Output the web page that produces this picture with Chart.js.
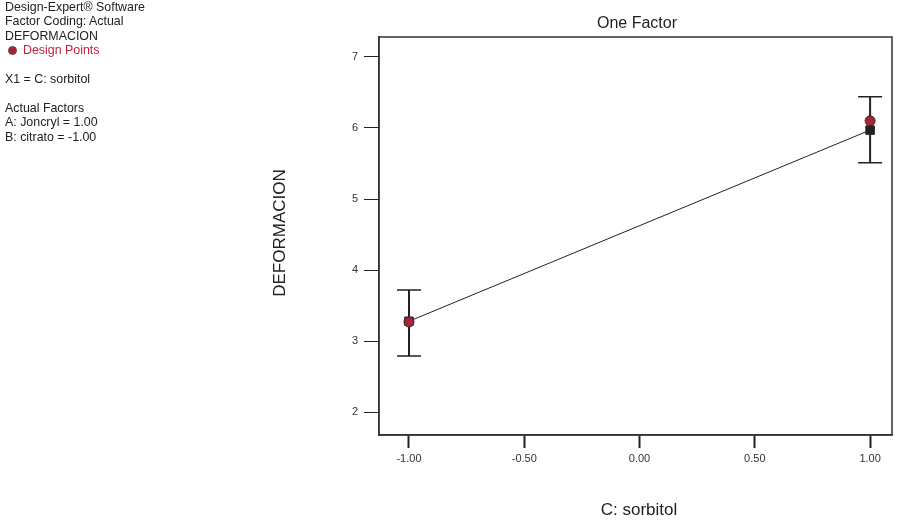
<!DOCTYPE html>
<html>
<head>
<meta charset="utf-8">
<script src="https://cdn.jsdelivr.net/npm/chart.js@4/dist/chart.umd.min.js"></script>
<style>
  body { margin: 0; background: #fff; }
  #wrap { position: relative; width: 904px; height: 520px; }
  #notes { position: absolute; left: 5px; top: 0px; font: 12.4px "Liberation Sans", Arial, sans-serif; color: #222; line-height: 14.4px; }
  #notes .red { color: #c4223c; }
  #notes .dot { display: inline-block; width: 7px; height: 7px; border-radius: 50%; background: #a8223a; border: 1px solid #552; margin: 0 6px 1px 3px; vertical-align: middle; }
</style>
</head>
<body>
<div id="wrap">
  <canvas id="my-chart" width="904" height="520"></canvas>
  <div id="notes">
    Design-Expert® Software<br>
    Factor Coding: Actual<br>
    DEFORMACION<br>
    <span class="red"><span class="dot"></span>Design Points</span><br>
    <br>
    X1 = C: sorbitol<br>
    <br>
    Actual Factors<br>
    A: Joncryl = 1.00<br>
    B: citrato = -1.00
  </div>
</div>
<script>
'use strict';

// data
let factorLevels = [-1, 1];
let predicted = [3.28, 5.97];
let lowerBar = [2.79, 5.51];
let upperBar = [3.72, 6.44];
let designPoints = [3.27, 6.10];
let xTicks = [-1, -0.5, 0, 0.5, 1];
let yTicks = [2, 3, 4, 5, 6, 7];

let ctx = document.getElementById('my-chart');

// error bars + frame + titles
let extras = {
  id: 'extras',
  beforeDatasetsDraw(chart) {
    let c = chart.ctx;
    let xs = chart.scales.x;
    let ys = chart.scales.y;
    c.save();
    c.strokeStyle = '#222';
    for (let i = 0; i < factorLevels.length; i++) {
      let px = xs.getPixelForValue(factorLevels[i]);
      let top = ys.getPixelForValue(upperBar[i]);
      let bot = ys.getPixelForValue(lowerBar[i]);
      c.lineWidth = 2;
      c.beginPath();
      c.moveTo(px, top);
      c.lineTo(px, bot);
      c.stroke();
      c.lineWidth = 1.5;
      c.beginPath();
      c.moveTo(px - 12, top);
      c.lineTo(px + 12, top);
      c.moveTo(px - 12, bot);
      c.lineTo(px + 12, bot);
      c.stroke();
    }
    c.restore();
  },
  afterDraw(chart) {
    let c = chart.ctx;
    let a = chart.chartArea;
    c.save();
    c.strokeStyle = '#333';
    c.lineWidth = 1.5;
    c.strokeRect(a.left, a.top, a.right - a.left, a.bottom - a.top);
    c.fillStyle = '#222';
    c.textAlign = 'center';
    c.textBaseline = 'middle';
    let mid = (a.left + a.right) / 2;
    c.font = '16px "Liberation Sans", Arial, sans-serif';
    c.fillText('One Factor', 637, 24);
    c.font = '17px "Liberation Sans", Arial, sans-serif';
    c.fillText('C: sorbitol', 639, 510);
    c.translate(280, 233);
    c.rotate(-Math.PI / 2);
    c.fillText('DEFORMACION', 0, 0);
    c.restore();
  }
};

let chartObject = {
  type: 'scatter',
  data: {
    datasets: [
      {
        label: 'Design Points',
        data: factorLevels.map((x, i) => ({ x: x, y: designPoints[i] })),
        pointStyle: 'circle',
        pointRadius: 5,
        backgroundColor: '#a8223a',
        borderColor: '#3a2a2a',
        borderWidth: 1,
        order: 0
      },
      {
        label: 'Prediction',
        data: factorLevels.map((x, i) => ({ x: x, y: predicted[i] })),
        showLine: true,
        borderColor: '#222',
        borderWidth: 1,
        pointStyle: 'rect',
        pointRadius: 6,
        pointBackgroundColor: '#222',
        pointBorderColor: '#222',
        order: 1
      }
    ]
  },
  options: {
    responsive: false,
    animation: false,
    layout: { padding: { top: 37, right: 12, left: 0, bottom: 0 } },
    plugins: {
      legend: { display: false },
      tooltip: { enabled: false }
    },
    scales: {
      x: {
        type: 'linear',
        min: -1.13,
        max: 1.095,
        afterBuildTicks(scale) { scale.ticks = xTicks.map(v => ({ value: v })); },
        afterFit(scale) { scale.height = 85; },
        grid: { drawOnChartArea: false, drawTicks: true, tickLength: 13, tickWidth: 2, tickColor: '#222' },
        border: { display: true, color: '#333', width: 1.5 },
        ticks: {
          padding: 4,
          color: '#333',
          font: { size: 11, family: '"Liberation Sans", Arial, sans-serif' },
          callback: v => v.toFixed(2)
        }
      },
      y: {
        type: 'linear',
        min: 1.68,
        max: 7.28,
        afterBuildTicks(scale) { scale.ticks = yTicks.map(v => ({ value: v })); },
        afterFit(scale) { scale.width = 379; },
        grid: { drawOnChartArea: false, drawTicks: true, tickLength: 15, tickWidth: 1, tickColor: '#222' },
        border: { display: true, color: '#333', width: 1.5 },
        ticks: {
          padding: 6,
          color: '#333',
          font: { size: 11, family: '"Liberation Sans", Arial, sans-serif' }
        }
      }
    }
  },
  plugins: [extras]
};

const myChart = new Chart(ctx, chartObject);
</script>
</body>
</html>
